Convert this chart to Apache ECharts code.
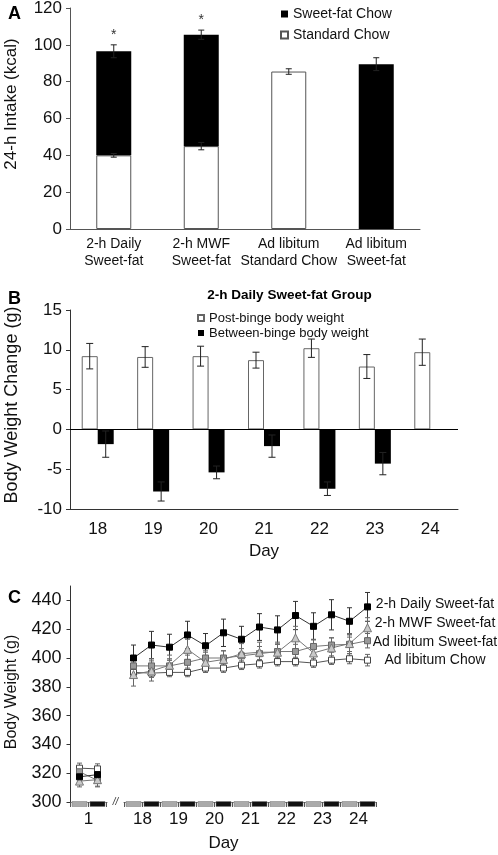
<!DOCTYPE html>
<html>
<head>
<meta charset="utf-8">
<script src="https://cdn.jsdelivr.net/npm/echarts@6/dist/echarts.min.js"></script>
<style>
html,body{margin:0;padding:0;background:#fff;}
#chart{width:498px;height:855px;}
</style>
</head>
<body>
<div id="chart"></div>
<script>
// ---------- Panel A data ----------
const aCategories = ['2-h Daily\nSweet-fat', '2-h MWF\nSweet-fat', 'Ad libitum\nStandard Chow', 'Ad libitum\nSweet-fat'];
const aStandard = [40, 45, 85.5, '-'];
const aSweetFat = [56.5, 60.5, '-', 89.5];
const aStandardErr = [1, 2, 1.5, null];
const aTotalErr = [3.5, 2.5, null, 3.5];
const aSig = ['*', '*', '', ''];
const aTicks = [0, 20, 40, 60, 80, 100, 120];

// ---------- Panel B data ----------
const bDays = ['18', '19', '20', '21', '22', '23', '24'];
const bPost = [9.2, 9.1, 9.2, 8.7, 10.2, 7.9, 9.7];
const bPostErr = [1.6, 1.3, 1.25, 1.0, 1.15, 1.5, 1.65];
const bBetween = [-1.85, -7.8, -5.4, -2.1, -7.45, -4.3, '-'];
const bBetweenErr = [1.65, 1.2, 0.8, 1.4, 0.85, 1.4, null];
const bTicks = [-10, -5, 0, 5, 10, 15];

// ---------- Panel C data ----------
const cTimes = ['1', '1', '18', '18', '19', '19', '20', '20', '21', '21', '22', '22', '23', '23', '24', '24'];
const cPhase = ['light', 'dark', 'light', 'dark', 'light', 'dark', 'light', 'dark', 'light', 'dark', 'light', 'dark', 'light', 'dark', 'light', 'dark'];
const cDaily = [317.5, 319, 400, 409, 407.5, 416, 408.5, 417.5, 413, 421.5, 419.5, 429.5, 422, 430, 425.5, 435.5];
const cDailyErr = [4, 4, 9, 9.5, 9, 9.5, 8.5, 9.5, 9, 9.3, 9.8, 9.8, 9.4, 10.5, 9.4, 10];
const cMWF = [314.5, 315.5, 388.5, 391, 395, 406, 397, 399, 403, 404, 404, 414, 403.5, 407, 410, 421];
const cMWFErr = [4, 5, 8, 7, 7, 7, 7, 6, 7, 7, 7, 8, 6, 7, 7, 7];
const cAdSF = [321, 315, 394.5, 394.5, 394.5, 397, 400, 400, 401.5, 403, 404.5, 404.5, 408, 409, 409.5, 412];
const cAdSFErr = [4, 4, 5, 5, 5, 5, 5, 5, 5, 5, 5, 5, 5, 5, 5, 5];
const cChow = [323.5, 323, 390, 389.5, 390, 390, 393, 393, 395, 396, 397.5, 397.5, 396.5, 398.5, 399.5, 398.5];
const cChowErr = [3.5, 3.5, 3, 3, 3, 3, 3, 3, 3, 3, 3, 3, 3, 3, 3.5, 4];
const cSeriesNames = ['2-h Daily Sweet-fat', '2-h MWF Sweet-fat', 'Ad libitum Sweet-fat', 'Ad libitum Chow'];
const cTicks = [300, 320, 340, 360, 380, 400, 420, 440];

const FONT = 'Liberation Sans, Arial, Helvetica, sans-serif';
const AXIS_COLOR = '#555';

// slot position for the time axis of panel C (one empty slot for the axis break)
function slotOf(i) { return i < 2 ? i : i + 1; }
const cX = cTimes.map((t, i) => slotOf(i) + 0.5);
const breakSlot = 2;
// label at the boundary between the two points of each day
const cDayLabelAt = {};
cTimes.forEach((t, i) => { if (i % 2 === 0) cDayLabelAt[slotOf(i) + 1] = t; });

function lineData(vals) {
  const out = [];
  vals.forEach((v, i) => {
    if (i === 2) out.push([breakSlot + 0.5, '-']);
    out.push([cX[i], v]);
  });
  return out;
}
function errData(vals, errs) {
  return vals.map((v, i) => [cX[i], v, errs[i]]);
}

function errShape(api, x, m, e, dx, half, color, extra) {
  const t = api.coord([x, m + e]);
  const b = api.coord([x, m - e]);
  const cx = t[0] + dx;
  const st = { stroke: color, lineWidth: 1 };
  const children = [
    { type: 'line', shape: { x1: cx, y1: t[1], x2: cx, y2: b[1] }, style: st },
    { type: 'line', shape: { x1: cx - half, y1: t[1], x2: cx + half, y2: t[1] }, style: st },
    { type: 'line', shape: { x1: cx - half, y1: b[1], x2: cx + half, y2: b[1] }, style: st }
  ];
  if (extra) {
    children.push({ type: 'text', x: cx, y: t[1] - 3,
      style: { text: extra, fill: '#333', fontSize: 14, fontFamily: FONT, align: 'center', verticalAlign: 'bottom' } });
  }
  return { type: 'group', children };
}

// Panel A error items
const aErrItems = [];
aCategories.forEach((c, i) => {
  if (aStandardErr[i] != null) aErrItems.push({ v: [i, aStandard[i], aStandardErr[i]], sig: '' });
  if (aTotalErr[i] != null) {
    const base = aStandard[i] === '-' ? 0 : aStandard[i];
    aErrItems.push({ v: [i, base + aSweetFat[i], aTotalErr[i]], sig: aSig[i] });
  }
});

const B_BAR = 16;
const bErrPost = bPost.map((v, i) => [i, v, bPostErr[i]]);
const bErrBetween = [];
bBetween.forEach((v, i) => { if (bBetweenErr[i] != null) bErrBetween.push([i, v, bBetweenErr[i]]); });

const baseAxisLabel = { color: '#111', fontFamily: FONT };

const cStyles = [
  { symbol: 'rect', size: 6, fill: '#000', border: '#000', line: '#333', err: '#333' },
  { symbol: 'triangle', size: 8, fill: '#c8c8c8', border: '#777', line: '#777', err: '#666' },
  { symbol: 'rect', size: 6, fill: '#9a9a9a', border: '#666', line: '#777', err: '#666' },
  { symbol: 'rect', size: 6, fill: '#fff', border: '#444', line: '#555', err: '#666' }
];
const cVals = [cDaily, cMWF, cAdSF, cChow];
const cErrs = [cDailyErr, cMWFErr, cAdSFErr, cChowErr];

const cErrSeries = cVals.map((vals, k) => ({
  type: 'custom', xAxisIndex: 2, yAxisIndex: 2, z: 1, silent: true,
  data: errData(vals, cErrs[k]),
  encode: { x: 0, y: 1 },
  renderItem: (params, api) => errShape(api, api.value(0), api.value(1), api.value(2), 0, 2.5, cStyles[k].err)
}));
const cLineSeries = cVals.map((vals, k) => ({
  type: 'line', name: cSeriesNames[k], xAxisIndex: 2, yAxisIndex: 2, z: 3,
  data: lineData(vals), symbol: cStyles[k].symbol, symbolSize: cStyles[k].size, showAllSymbol: true,
  lineStyle: { color: cStyles[k].line, width: 1 },
  itemStyle: { color: cStyles[k].fill, borderColor: cStyles[k].border, borderWidth: 1 }
})).reverse();

const cStripeData = cPhase.map((p, i) => [slotOf(i), p === 'light' ? 0 : 1]);

const chart = echarts.init(document.getElementById('chart'), null, { renderer: 'canvas' });
const option = {
  animation: false,
  backgroundColor: '#fff',
  textStyle: { fontFamily: FONT },
  title: [
    { text: 'A', left: 3, top: 0, textStyle: { fontSize: 18, fontWeight: 'bold', fontFamily: FONT, color: '#000' } },
    { text: 'B', left: 3, top: 285, textStyle: { fontSize: 18, fontWeight: 'bold', fontFamily: FONT, color: '#000' } },
    { text: 'C', left: 3, top: 584, textStyle: { fontSize: 18, fontWeight: 'bold', fontFamily: FONT, color: '#000' } },
    { text: '2-h Daily Sweet-fat Group', left: 289.5, top: 288, textAlign: 'center', padding: 0,
      textStyle: { fontSize: 13.5, fontWeight: 'bold', fontFamily: FONT, color: '#000' } }
  ],
  legend: [
    { data: ['Sweet-fat Chow', 'Standard Chow'], orient: 'vertical', left: 280, top: 6, padding: 0,
      itemWidth: 7, itemHeight: 7, itemGap: 5, icon: 'rect',
      textStyle: { fontSize: 14, lineHeight: 16, color: '#111', fontFamily: FONT } },
    { data: ['Post-binge body weight', 'Between-binge body weight'], orient: 'vertical', left: 197, top: 310.5, padding: 0,
      itemWidth: 6, itemHeight: 6, itemGap: 0, icon: 'rect',
      textStyle: { fontSize: 13, lineHeight: 15, color: '#111', fontFamily: FONT } }
  ],
  grid: [
    { left: 70, top: 8, width: 350, height: 221, outerBoundsMode: 'none' },
    { left: 70, top: 310, width: 388, height: 199, outerBoundsMode: 'none' },
    { left: 70.5, top: 586, width: 306, height: 216, outerBoundsMode: 'none' }
  ],
  xAxis: [
    { type: 'category', gridIndex: 0, data: aCategories,
      axisLine: { lineStyle: { color: AXIS_COLOR } },
      axisTick: { length: 4, lineStyle: { color: AXIS_COLOR } },
      axisLabel: Object.assign({}, baseAxisLabel, { fontSize: 14, lineHeight: 17, margin: 7, interval: 0 }) },
    { type: 'category', gridIndex: 1, data: bDays,
      axisLine: { onZero: false, lineStyle: { color: '#333' } },
      axisTick: { length: 4, lineStyle: { color: '#333' } },
      axisLabel: Object.assign({}, baseAxisLabel, { fontSize: 17, margin: 12 }),
      name: 'Day', nameLocation: 'middle', nameGap: 34,
      nameTextStyle: { fontSize: 17, color: '#111', fontFamily: FONT } },
    { type: 'value', gridIndex: 2, min: 0, max: 17, interval: 1,
      splitLine: { show: false },
      axisLine: { onZero: false, lineStyle: { color: '#888' } },
      axisTick: { length: 5, lineStyle: { color: '#555' } },
      axisLabel: Object.assign({}, baseAxisLabel, { fontSize: 17, margin: 9,
        formatter: v => (cDayLabelAt[v] !== undefined ? cDayLabelAt[v] : '') }),
      name: 'Day', nameLocation: 'middle', nameGap: 33,
      nameTextStyle: { fontSize: 17, color: '#111', fontFamily: FONT } }
  ],
  yAxis: [
    { type: 'value', gridIndex: 0, min: aTicks[0], max: aTicks[aTicks.length - 1], interval: 20,
      splitLine: { show: false },
      axisLine: { show: true, lineStyle: { color: AXIS_COLOR } },
      axisTick: { show: true, length: 4, lineStyle: { color: AXIS_COLOR } },
      axisLabel: Object.assign({}, baseAxisLabel, { fontSize: 17, margin: 8 }),
      name: '24-h Intake (kcal)', nameLocation: 'middle', nameGap: 50,
      nameTextStyle: { fontSize: 17, color: '#111', fontFamily: FONT, padding: [0, 0, 0, 29] } },
    { type: 'value', gridIndex: 1, min: bTicks[0], max: bTicks[bTicks.length - 1], interval: 5,
      splitLine: { show: false },
      axisLine: { show: true, lineStyle: { color: '#333' } },
      axisTick: { show: true, length: 4, lineStyle: { color: '#333' } },
      axisLabel: Object.assign({}, baseAxisLabel, { fontSize: 17, margin: 8 }),
      name: 'Body Weight Change (g)', nameLocation: 'middle', nameGap: 49,
      nameTextStyle: { fontSize: 18, color: '#111', fontFamily: FONT, padding: [0, 0, 0, 9] } },
    { type: 'value', gridIndex: 2, min: 300, max: 450, interval: 20,
      splitLine: { show: false },
      axisLine: { show: true, lineStyle: { color: '#333' } },
      axisTick: { show: true, length: 4, customValues: cTicks, lineStyle: { color: '#333' } },
      axisLabel: Object.assign({}, baseAxisLabel, { fontSize: 18, margin: 9, customValues: cTicks }),
      name: 'Body Weight (g)', nameLocation: 'middle', nameGap: 51,
      nameTextStyle: { fontSize: 16, color: '#111', fontFamily: FONT, padding: [0, 0, 0, 4] } }
  ],
  graphic: cSeriesNames.map((n, k) => ({
    type: 'text', x: 435, y: [604, 623, 642, 660][k],
    style: { text: n, fontSize: 14, fontFamily: FONT, fill: '#111', align: 'center', verticalAlign: 'middle' }
  })),
  series: [
    // Panel A
    { type: 'bar', name: 'Standard Chow', xAxisIndex: 0, yAxisIndex: 0, stack: 'a', data: aStandard, barWidth: 35,
      itemStyle: { color: '#fff', borderColor: '#555', borderWidth: 1 } },
    { type: 'bar', name: 'Sweet-fat Chow', xAxisIndex: 0, yAxisIndex: 0, stack: 'a', data: aSweetFat, barWidth: 35,
      itemStyle: { color: '#000', borderColor: '#000', borderWidth: 0 } },
    { type: 'custom', xAxisIndex: 0, yAxisIndex: 0, z: 5, silent: true, clip: false,
      data: aErrItems.map(d => d.v), encode: { x: 0, y: 1 },
      renderItem: (params, api) => errShape(api, api.value(0), api.value(1), api.value(2), 0, 3, '#222', aErrItems[params.dataIndex].sig) },
    // Panel B
    { type: 'bar', name: 'Post-binge body weight', xAxisIndex: 1, yAxisIndex: 1, data: bPost, barWidth: B_BAR, barGap: '0%',
      itemStyle: { color: '#fff', borderColor: '#666', borderWidth: 1 },
      markLine: { silent: true, symbol: 'none', label: { show: false },
        lineStyle: { color: '#000', width: 1, type: 'solid' }, data: [{ yAxis: 0 }] } },
    { type: 'bar', name: 'Between-binge body weight', xAxisIndex: 1, yAxisIndex: 1, data: bBetween, barWidth: B_BAR, barGap: '0%',
      itemStyle: { color: '#000' } },
    { type: 'custom', xAxisIndex: 1, yAxisIndex: 1, z: 5, silent: true, clip: false,
      data: bErrPost, encode: { x: 0, y: 1 },
      renderItem: (params, api) => errShape(api, api.value(0), api.value(1), api.value(2), -B_BAR / 2, 3.5, '#222') },
    { type: 'custom', xAxisIndex: 1, yAxisIndex: 1, z: 5, silent: true, clip: false,
      data: bErrBetween, encode: { x: 0, y: 1 },
      renderItem: (params, api) => errShape(api, api.value(0), api.value(1), api.value(2), B_BAR / 2, 3.5, '#222') },
    // Panel C light/dark stripes and axis break
    { type: 'custom', xAxisIndex: 2, yAxisIndex: 2, z: 6, silent: true, clip: false,
      data: cStripeData, encode: { x: 0, y: 1 },
      renderItem: (params, api) => {
        const p = api.coord([api.value(0), 300]);
        const w = api.size([1, 0])[0];
        return { type: 'rect', shape: { x: p[0] + 1.5, y: p[1] - 0.5, width: w - 3, height: 5 },
          style: { fill: api.value(1) === 0 ? '#aaaaaa' : '#111111', stroke: '#777', lineWidth: 0.5 } };
      } },
    { type: 'custom', xAxisIndex: 2, yAxisIndex: 2, z: 6, silent: true, clip: false,
      data: [[breakSlot + 0.5, 300]], encode: { x: 0, y: 1 },
      renderItem: (params, api) => {
        const p = api.coord([api.value(0), api.value(1)]);
        return { type: 'group', children: [
          { type: 'rect', shape: { x: p[0] - 8, y: p[1] - 1.5, width: 16, height: 4 }, style: { fill: '#fff' } },
          { type: 'text', x: p[0], y: p[1], style: { text: '//', fontSize: 10, fontStyle: 'italic', fontFamily: FONT, fill: '#333', align: 'center', verticalAlign: 'middle' } }
        ] };
      } }
  ].concat(cErrSeries, cLineSeries)
};
chart.setOption(option);
</script>
</body>
</html>
